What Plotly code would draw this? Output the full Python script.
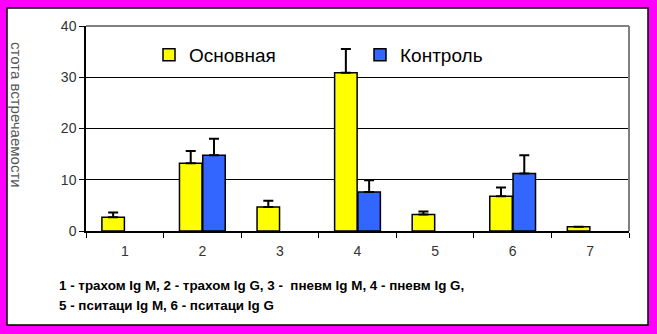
import plotly.graph_objects as go

categories = ["1", "2", "3", "4", "5", "6", "7"]
main_vals = [2.7, 13.2, 4.7, 30.9, 3.2, 6.8, 0.85]
main_err = [0.9, 2.4, 1.2, 4.6, 0.6, 1.7, 0]
ctrl_vals = [None, 14.8, None, 7.6, None, 11.2, None]
ctrl_err = [0, 3.2, 0, 2.3, 0, 3.6, 0]
yticks = [0, 10, 20, 30, 40]
caption = ["1 - трахом Ig M, 2 - трахом Ig G, 3 -  пневм Ig M, 4 - пневм Ig G,",
           "5 - пситаци Ig M, 6 - пситаци Ig G"]
ytitle = "стота встречаемости"

W, H = 657, 334
ML, MR, MT, MB = 86, 28, 26, 103
PW, PH = W - ML - MR, H - MT - MB

def px(x):
    return (x - ML) / PW

def py(y):
    return (H - MB - y) / PH

font = "Arial, Liberation Sans, sans-serif"

fig = go.Figure()
fig.add_trace(go.Bar(
    x=categories, y=main_vals, name="Основная",
    marker=dict(color="#FFFF00", line=dict(color="black", width=1.5)),
    error_y=dict(type="data", array=main_err, arrayminus=[0] * 7, symmetric=False,
                 color="black", thickness=2, width=5),
    offsetgroup="a", width=0.29,
))
fig.add_trace(go.Bar(
    x=categories, y=ctrl_vals, name="Контроль",
    marker=dict(color="#3366FF", line=dict(color="black", width=1.5)),
    error_y=dict(type="data", array=ctrl_err, arrayminus=[0] * 7, symmetric=False,
                 color="black", thickness=2, width=5),
    offsetgroup="b", width=0.29,
))

shapes = [
    dict(type="rect", xref="paper", yref="paper", layer="below",
         x0=px(7), x1=px(648), y0=py(325), y1=py(8),
         fillcolor="white", line=dict(color="black", width=1.5)),
    dict(type="line", xref="paper", yref="paper",
         x0=0, x1=1, y0=1, y1=1, line=dict(color="#808080", width=2)),
    dict(type="line", xref="paper", yref="paper",
         x0=1, x1=1, y0=0, y1=1, line=dict(color="#808080", width=2)),
]

annotations = [
    dict(text=ytitle, xref="paper", yref="paper", x=px(17), y=py(115),
         showarrow=False, textangle=90, font=dict(family=font, size=15, color="#555"),
         xanchor="center", yanchor="middle"),
    dict(text=caption[0], xref="paper", yref="paper", x=px(57), y=py(285),
         showarrow=False, xanchor="left", yanchor="middle",
         font=dict(family=font, size=13.4, color="black", weight="bold")),
    dict(text=caption[1], xref="paper", yref="paper", x=px(57), y=py(305),
         showarrow=False, xanchor="left", yanchor="middle",
         font=dict(family=font, size=13.4, color="black", weight="bold")),
]

fig.update_layout(
    width=W, height=H,
    margin=dict(l=ML, r=MR, t=MT, b=MB),
    paper_bgcolor="#FF00FF", plot_bgcolor="white",
    barmode="group", bargap=0.4,
    showlegend=True,
    legend=dict(orientation="h", x=px(149), y=py(55), xanchor="left", yanchor="middle",
                bgcolor="rgba(0,0,0,0)", entrywidth=166, entrywidthmode="pixels",
                font=dict(family=font, size=19, color="black")),
    shapes=shapes, annotations=annotations,
    font=dict(family=font),
)
fig.update_xaxes(type="category", tickson="boundaries", ticks="outside", ticklen=5,
                 tickcolor="black", showline=True, linecolor="black", linewidth=1.5,
                 tickfont=dict(family=font, size=14, color="#333"), ticklabelstandoff=6,
                 showgrid=False)
fig.update_yaxes(range=[0, 40], tickvals=yticks, ticks="outside", ticklen=5,
                 tickcolor="black", showline=True, linecolor="black", linewidth=1.5,
                 gridcolor="black", gridwidth=1, zeroline=False,
                 tickfont=dict(family=font, size=14, color="#333"))

fig.write_html("out.html")
